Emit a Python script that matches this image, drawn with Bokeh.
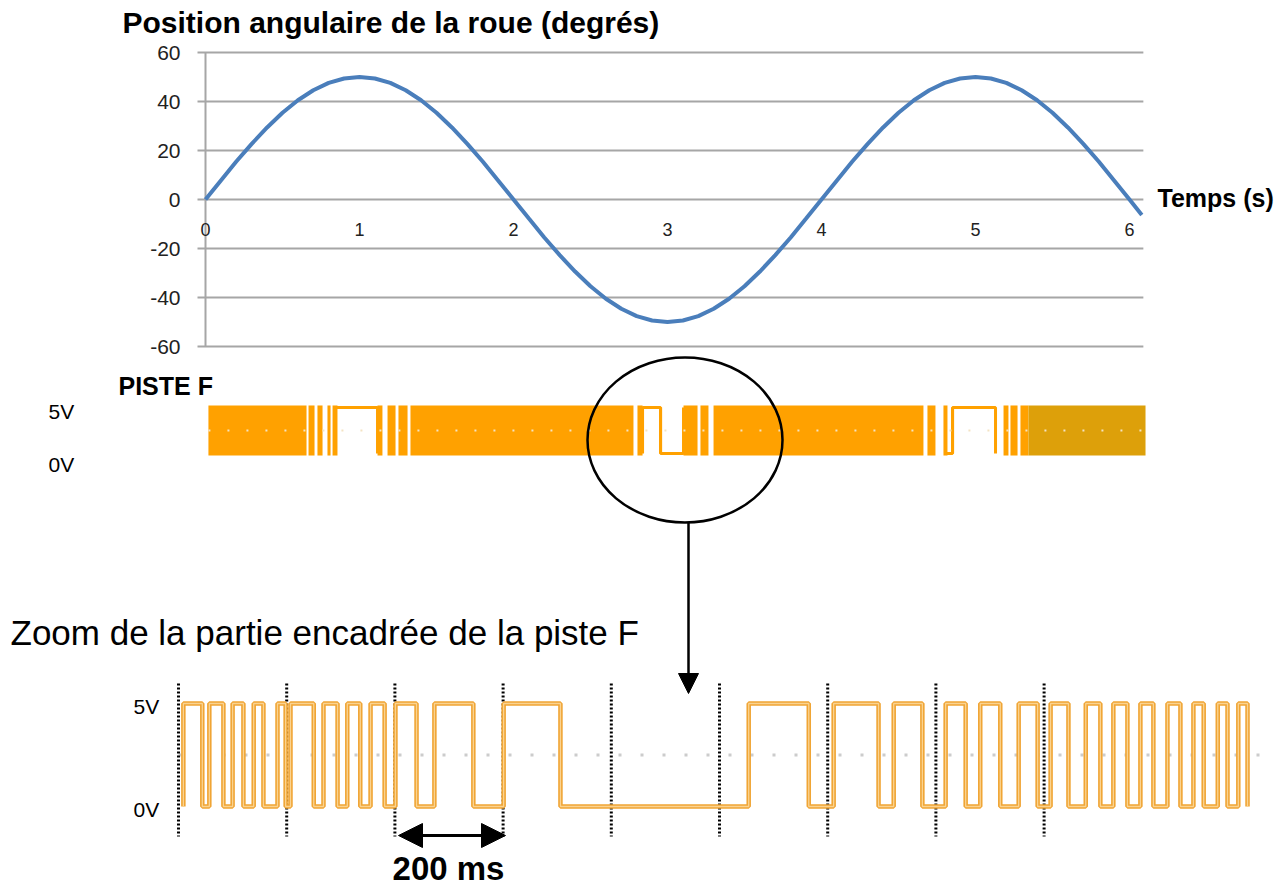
from bokeh.plotting import figure
from bokeh.models import Range1d, Label, Arrow, NormalHead
from bokeh.embed import file_html
from bokeh.resources import INLINE
from bokeh.core.properties import value

FONT = "Liberation Sans"

# ---------------- data ----------------
# top chart: wheel angular position (degrees) vs time (s)
sine_t = [0.0, 0.1, 0.2, 0.3, 0.4, 0.5, 0.6, 0.7, 0.8, 0.9, 1.0, 1.1, 1.2, 1.3, 1.4, 1.5,
          1.6, 1.7, 1.8, 1.9, 2.0, 2.1, 2.2, 2.3, 2.4, 2.5, 2.6, 2.7, 2.8, 2.9, 3.0, 3.1,
          3.2, 3.3, 3.4, 3.5, 3.6, 3.7, 3.8, 3.9, 4.0, 4.1, 4.2, 4.3, 4.4, 4.5, 4.6, 4.7,
          4.8, 4.9, 5.0, 5.1, 5.2, 5.3, 5.4, 5.5, 5.6, 5.7, 5.8, 5.9, 6.0, 6.08]
sine_deg = [0, 7.8, 15.5, 22.7, 29.4, 35.4, 40.5, 44.6, 47.6, 49.4, 50, 49.4, 47.6, 44.6, 40.5, 35.4,
            29.4, 22.7, 15.5, 7.8, 0, -7.8, -15.5, -22.7, -29.4, -35.4, -40.5, -44.6, -47.6, -49.4, -50, -49.4,
            -47.6, -44.6, -40.5, -35.4, -29.4, -22.7, -15.5, -7.8, 0, 7.8, 15.5, 22.7, 29.4, 35.4, 40.5, 44.6,
            47.6, 49.4, 50, 49.4, 47.6, 44.6, 40.5, 35.4, 29.4, 22.7, 15.5, 7.8, 0, -6.3]
y_ticks = [-60, -40, -20, 0, 20, 40, 60]
y_labels = ["-60", "-40", "-20", "0", "20", "40", "60"]
x_ticks = [0, 1, 2, 3, 4, 5, 6]
x_labels = ["0", "1", "2", "3", "4", "5", "6"]
t_end = 6.09

# track F (time in s): dense bands, dark band, high / low plateaus
band_start = [0.019, 0.669, 0.727, 0.792, 0.825, 1.117, 1.182, 1.253, 1.331, 2.805,
              3.104, 3.214, 3.299, 4.688, 4.792, 5.182, 5.227, 5.292]
band_end = [0.656, 0.708, 0.760, 0.812, 0.857, 1.149, 1.234, 1.312, 2.779, 2.838,
            3.195, 3.266, 4.662, 4.740, 4.818, 5.214, 5.273, 5.344]
dark_start = [5.344]
dark_end = [6.104]
hi_start = [0.844, 2.838, 4.851]
hi_end = [1.117, 2.955, 5.130]
lo_start = [2.955, 4.805]
lo_end = [3.104, 4.851]

# zoomed track F (time in ms): intervals where the signal is at 5 V
zoom_hi_start = [9, 57, 100, 139, 183, 207, 268, 312, 355, 401, 473, 601, 1054, 1211, 1322,
                 1418, 1482, 1553, 1612, 1677, 1728, 1778, 1828, 1876, 1921, 1959]
zoom_hi_end = [44, 83, 120, 157, 198, 250, 294, 336, 381, 440, 545, 706, 1165, 1294, 1375,
               1455, 1519, 1588, 1645, 1704, 1754, 1802, 1852, 1895, 1939, 1976]
zoom_div_ms = [0, 200, 400, 600, 800, 1000, 1200, 1400, 1600]

# ---------------- one canvas, main ranges = page pixels ----------------
W, H = 1283, 892
p = figure(width=W, height=H, x_range=Range1d(0, W), y_range=Range1d(H, 0),
           x_axis_location=None, y_axis_location=None,
           output_backend="svg", toolbar_location=None, min_border=0,
           outline_line_color=None)
p.xgrid.visible = False
p.ygrid.visible = False
p.background_fill_color = "white"
p.border_fill_color = "white"

# scales (pixel anchors)
T0, TS = 205.0, 154.0      # top chart & track F: t=0 at x 205, 154 px per second
D0, DS = 199.0, 2.45       # degrees: 0 at y 199, 2.45 px per degree
S0, SS = 453.0, 9.2        # track F: 0 V at y 453, 9.2 px per volt
M0, MS = 178.0, 0.541      # zoom: 0 ms at x 178, 0.541 px per ms
Z0, ZS = 806.0, 20.6       # zoom: 0 V at y 806, 20.6 px per volt
p.extra_x_ranges = {"t": Range1d((0 - T0) / TS, (W - T0) / TS),
                    "ms": Range1d((0 - M0) / MS, (W - M0) / MS)}
p.extra_y_ranges = {"deg": Range1d((D0 - H) / DS, D0 / DS),
                    "sv": Range1d((S0 - H) / SS, S0 / SS),
                    "zv": Range1d((Z0 - H) / ZS, Z0 / ZS)}

# ---------------- top chart ----------------
GRID = "#A6A6A6"
tick_out = -8 / TS
p.segment(x0=[tick_out] * len(y_ticks), y0=y_ticks, x1=[t_end] * len(y_ticks), y1=y_ticks,
          line_color=GRID, line_width=2, x_range_name="t", y_range_name="deg")
p.segment(x0=[0], y0=[y_ticks[0]], x1=[0], y1=[y_ticks[-1]], line_color=GRID, line_width=2,
          x_range_name="t", y_range_name="deg")
p.text(x=[0] * len(y_ticks), y=y_ticks, text=y_labels, text_font=value(FONT),
       text_font_size="21px", text_color="#222222", text_align="right",
       text_baseline="middle", x_offset=-25, x_range_name="t", y_range_name="deg")
p.line(sine_t, sine_deg, line_color="#4A7EBB", line_width=4, x_range_name="t", y_range_name="deg")
p.text(x=x_ticks, y=[0] * len(x_ticks), text=x_labels, text_font=value(FONT),
       text_font_size="18px", text_color="#222222", text_align="center",
       text_baseline="middle", y_offset=30, x_range_name="t", y_range_name="deg")

# ---------------- track F ----------------
ORANGE = "#FFA100"
DARK = "#DDA00A"
p.quad(left=band_start, right=band_end, bottom=-0.22, top=5.22, fill_color=ORANGE,
       line_color=None, x_range_name="t", y_range_name="sv")
p.quad(left=dark_start, right=dark_end, bottom=-0.22, top=5.22, fill_color=DARK,
       line_color=None, x_range_name="t", y_range_name="sv")
xs, ys = [], []
for a, b in zip(hi_start, hi_end):
    xs.append([a, a, b, b]); ys.append([0, 5, 5, 0])
for a, b in zip(lo_start, lo_end):
    xs.append([a, a, b, b]); ys.append([5, 0, 0, 5])
p.multi_line(xs, ys, line_color=ORANGE, line_width=3, x_range_name="t", y_range_name="sv")
p.segment(x0=[0.019], y0=[2.5], x1=[6.104], y1=[2.5], line_color="#F3E3C3", line_width=2,
          line_dash="2 17", x_range_name="t", y_range_name="sv")

# ---------------- circle and arrow ----------------
p.ellipse(x=[684.5], y=[439.5], width=[195], height=[165], fill_color=None,
          line_color="black", line_width=2.5)
p.add_layout(Arrow(end=NormalHead(size=20, fill_color="black", line_color="black"),
                   x_start=688, y_start=522, x_end=688, y_end=693,
                   line_color="black", line_width=2.5))

# ---------------- zoom ----------------
p.segment(x0=[0], y0=[2.5], x1=[2000], y1=[2.5], line_color="#CCCCCC", line_width=3,
          line_dash="3 19", x_range_name="ms", y_range_name="zv")
p.segment(x0=zoom_div_ms, y0=[683] * len(zoom_div_ms), x1=zoom_div_ms, y1=[836] * len(zoom_div_ms),
          line_color="black", line_width=3, line_dash="2 2", x_range_name="ms")
zx, zy = [], []
for a, b in zip(zoom_hi_start, zoom_hi_end):
    zx += [a, a, b, b]
    zy += [0, 5, 5, 0]
p.line(zx, zy, line_color="#F0A535", line_width=4.5, x_range_name="ms", y_range_name="zv")
p.line(zx, zy, line_color="#FAD390", line_width=1.3, x_range_name="ms", y_range_name="zv")

p.add_layout(Arrow(start=NormalHead(size=24, fill_color="black", line_color="black"),
                   end=NormalHead(size=24, fill_color="black", line_color="black"),
                   x_start=398, y_start=835, x_end=505, y_end=835,
                   line_color="black", line_width=3))

# ---------------- texts ----------------
for txt, x, y, sz, st, al in [
        ("Position angulaire de la roue (degrés)", 122, 22, "30px", "bold", "left"),
        ("Temps (s)", 1157, 197, "25px", "bold", "left"),
        ("PISTE F", 118, 385, "25px", "bold", "left"),
        ("5V", 48, 411, "21px", "normal", "left"),
        ("0V", 48, 464, "21px", "normal", "left"),
        ("Zoom de la partie encadrée de la piste F", 10, 632, "35px", "normal", "left"),
        ("5V", 133, 706, "21px", "normal", "left"),
        ("0V", 133, 809, "21px", "normal", "left"),
        ("200 ms", 448, 868, "33px", "bold", "center")]:
    p.add_layout(Label(x=x, y=y, text=txt, text_font=FONT, text_font_size=sz,
                       text_font_style=st, text_color="black", text_align=al,
                       text_baseline="middle"))

open("out.html", "w").write(file_html(p, INLINE))
